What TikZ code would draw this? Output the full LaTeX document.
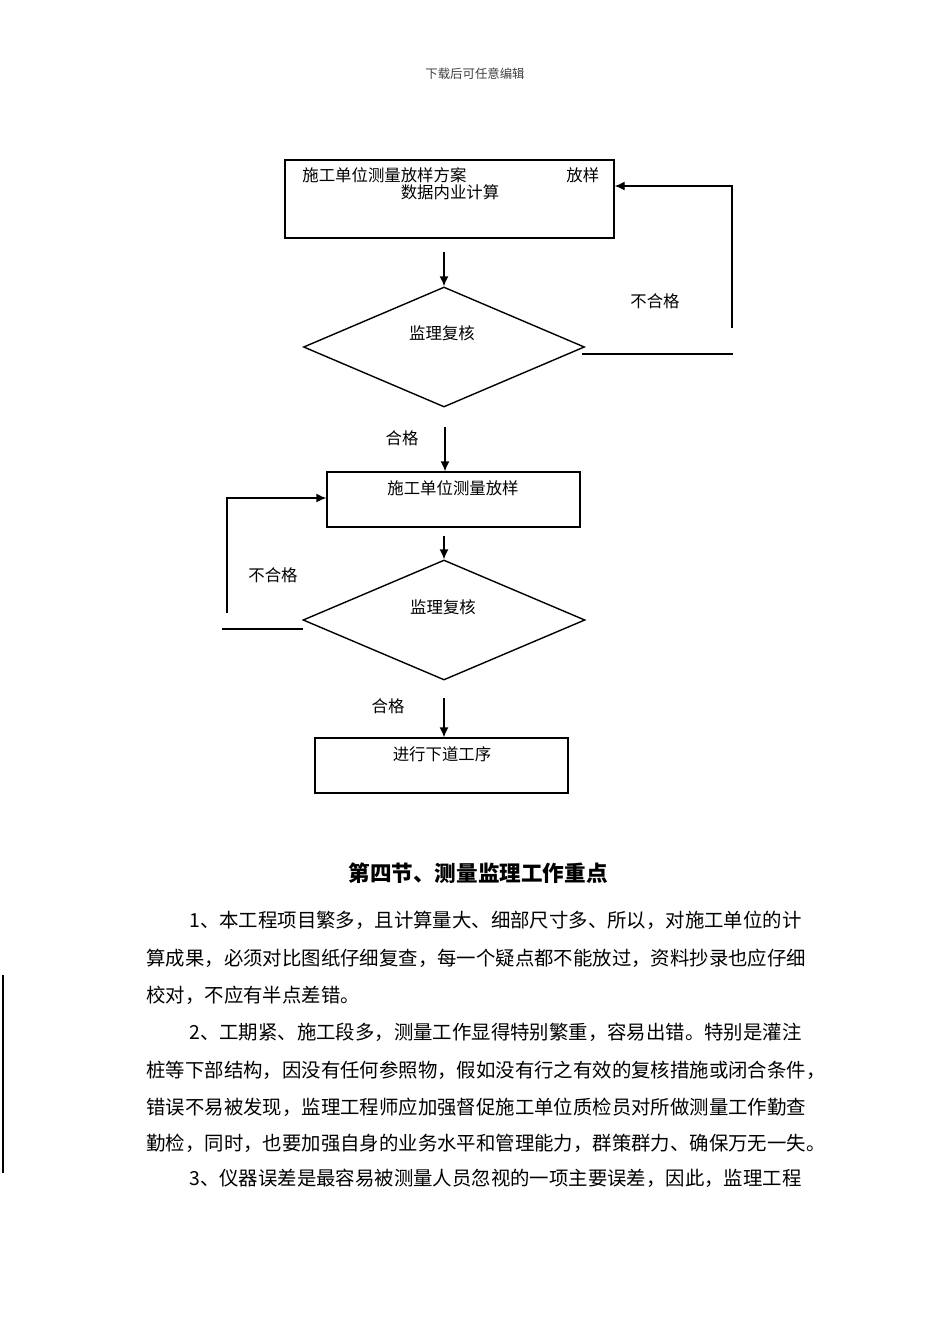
\documentclass[tikz,border=0pt]{standalone}
\usepackage{fontspec}
\setmainfont{Noto Sans CJK SC}
\usetikzlibrary{shapes.geometric}
\usetikzlibrary{arrows.meta}
\tikzset{
  box/.style={draw,line width=0.7pt,inner sep=0pt},
  check/.style={draw,diamond,line width=0.7pt,inner sep=0pt},
  arr/.style={line width=0.7pt,-{Latex[length=5pt,width=4.5pt]}},
  txt/.style={inner sep=0pt,font=\fontsize{8.2}{9}\selectfont},
  head/.style={inner sep=0pt,text=black!75,font=\fontsize{6.2}{7}\selectfont},
  para/.style={inner sep=0pt,anchor=west,font=\fontsize{9.7}{11}\selectfont}
}

\begin{document}
\begin{tikzpicture}[x=0.5pt,y=-0.5pt]
        \useasboundingbox (0,0) rectangle (950,1344);
        \node[head] (hdr) at (475,74) {下载后可任意编辑};
        \node[box,minimum width=164.5pt,minimum height=39pt] (plan) at (449.5,199) {};
        \node[txt,anchor=west] (plantxt) at (302,175) {施工单位测量放样方案};
        \node[txt,anchor=west] (plantail) at (566,175) {放样};
        \node[txt] (calc) at (450,192) {数据内业计算};
        \node[check,minimum width=140.5pt,minimum height=60pt] (chk1) at (444,347) {};
        \node[txt] (chk1txt) at (442,333) {监理复核};
        \node[txt] (ng1) at (655,301) {不合格};
        \node[txt] (ok1) at (402,438) {合格};
        \node[box,minimum width=126.5pt,minimum height=27.5pt] (fix) at (453.5,499.5) {};
        \node[txt] (fixtxt) at (453,488) {施工单位测量放样};
        \node[check,minimum width=141pt,minimum height=60pt] (chk2) at (444,620) {};
        \node[txt] (chk2txt) at (443,607) {监理复核};
        \node[txt] (ng2) at (273,575) {不合格};
        \node[txt] (ok2) at (388,706) {合格};
        \node[box,minimum width=126.5pt,minimum height=27.5pt] (next) at (441.5,765.5) {};
        \node[txt] (nexttxt) at (442,754) {进行下道工序};
        \coordinate (a1) at (444,252);
        \coordinate (a2) at (445,427);
        \coordinate (a3) at (444,536);
        \coordinate (a4) at (444,698);
        \draw[arr] (a1) -- (chk1.north);
        \draw[arr] (a2) -- (a2 |- fix.north);
        \draw[arr] (a3) -- (chk2.north);
        \draw[arr] (a4) -- (a4 |- next.north);
        \coordinate (r0) at (582,354);
        \coordinate (r1) at (733,354);
        \coordinate (r2) at (732,328);
        \coordinate (r3) at (732,186);
        \draw[line width=0.7pt] (r0) -- (r1);
        \draw[arr] (r2) -- (r3) -- (plan.east |- r3);
        \coordinate (q0) at (303,629);
        \coordinate (q1) at (222,629);
        \coordinate (q2) at (227,613);
        \coordinate (q3) at (227,498);
        \draw[line width=0.7pt] (q0) -- (q1);
        \draw[arr] (q2) -- (q3) -- (q3 -| fix.west);
        \node[inner sep=0pt,font=\fontsize{10.8}{12}\selectfont\bfseries] (sec) at (478,873) {第四节、测量监理工作重点};
        \node[para] (p1) at (189,920) {1、本工程项目繁多，且计算量大、细部尺寸多、所以，对施工单位的计};
        \node[para] (p2) at (146,958) {算成果，必须对比图纸仔细复查，每一个疑点都不能放过，资料抄录也应仔细};
        \node[para] (p3) at (146,995) {校对，不应有半点差错。};
        \node[para] (p4) at (189,1032) {2、工期紧、施工段多，测量工作显得特别繁重，容易出错。特别是灌注};
        \node[para] (p5) at (146,1070) {桩等下部结构，因没有任何参照物，假如没有行之有效的复核措施或闭合条件，};
        \node[para] (p6) at (146,1107) {错误不易被发现，监理工程师应加强督促施工单位质检员对所做测量工作勤查};
        \node[para] (p7) at (146,1143) {勤检，同时，也要加强自身的业务水平和管理能力，群策群力、确保万无一失。};
        \node[para] (p8) at (189,1178) {3、仪器误差是最容易被测量人员忽视的一项主要误差，因此，监理工程};
        \draw[line width=0.7pt] (3,975) -- (3,1173);
      \end{tikzpicture}
\end{document}
